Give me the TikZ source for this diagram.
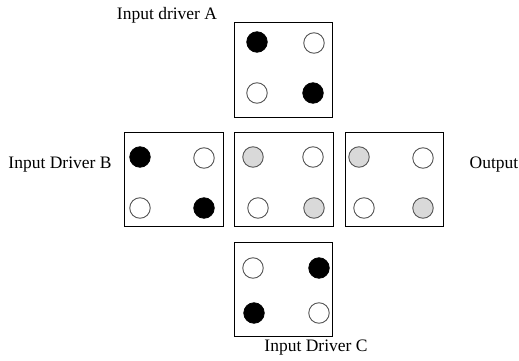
\documentclass[tikz,border=0pt]{standalone}
\usepackage{fontspec}
\setmainfont{Liberation Serif}
\definecolor{dotgray}{HTML}{D9D9D9}
\definecolor{rimgray}{HTML}{555555}
\tikzset{
  panel/.style={draw=black, line width=0.9pt},
  dotblack/.style={circle, draw=black, fill=black, line width=0.8pt, minimum size=20.5pt, inner sep=0pt},
  dotwhite/.style={circle, draw=rimgray, fill=white, line width=0.9pt, minimum size=20.5pt, inner sep=0pt},
  dotgrey/.style={circle, draw=rimgray, fill=dotgray, line width=0.9pt, minimum size=20.5pt, inner sep=0pt},
  caption/.style={font=\fontsize{17.5}{20}\selectfont, inner sep=0pt}
}
\begin{document}
\begin{tikzpicture}[x=1pt, y=-1pt]
  \useasboundingbox (0,0) rectangle (519,361);
  % panels
  \draw[panel] (234,22) rectangle (332,117);
  \draw[panel] (124,132) rectangle (223,226);
  \draw[panel] (234,132) rectangle (333,226);
  \draw[panel] (345,132) rectangle (443,226);
  \draw[panel] (234,242) rectangle (332,336);
  % driver A
  \node[dotblack] (a1) at (257,42) {};
  \node[dotwhite] (a2) at (314,43) {};
  \node[dotwhite] (a3) at (257,93) {};
  \node[dotblack] (a4) at (313,93) {};
  % driver B
  \node[dotblack] (b1) at (140,157) {};
  \node[dotwhite] (b2) at (204,158) {};
  \node[dotwhite] (b3) at (140,208) {};
  \node[dotblack] (b4) at (204,208) {};
  % combined centre
  \node[dotgrey] (m1) at (253,157) {};
  \node[dotwhite] (m2) at (313,157) {};
  \node[dotwhite] (m3) at (258,208) {};
  \node[dotgrey] (m4) at (314,208) {};
  % output
  \node[dotgrey] (o1) at (359,157) {};
  \node[dotwhite] (o2) at (423,158) {};
  \node[dotwhite] (o3) at (364,208) {};
  \node[dotgrey] (o4) at (423,208) {};
  % driver C
  \node[dotwhite] (c1) at (253,268) {};
  \node[dotblack] (c2) at (319,268) {};
  \node[dotblack] (c3) at (254,313) {};
  \node[dotwhite] (c4) at (319,313) {};
  % captions
  \node[caption] (la) at (167,15) {Input driver A};
  \node[caption] (lb) at (60,165) {Input Driver B};
  \node[caption] (lo) at (494,165) {Output};
  \node[caption] (lc) at (316,348) {Input Driver C};
\end{tikzpicture}
\end{document}
